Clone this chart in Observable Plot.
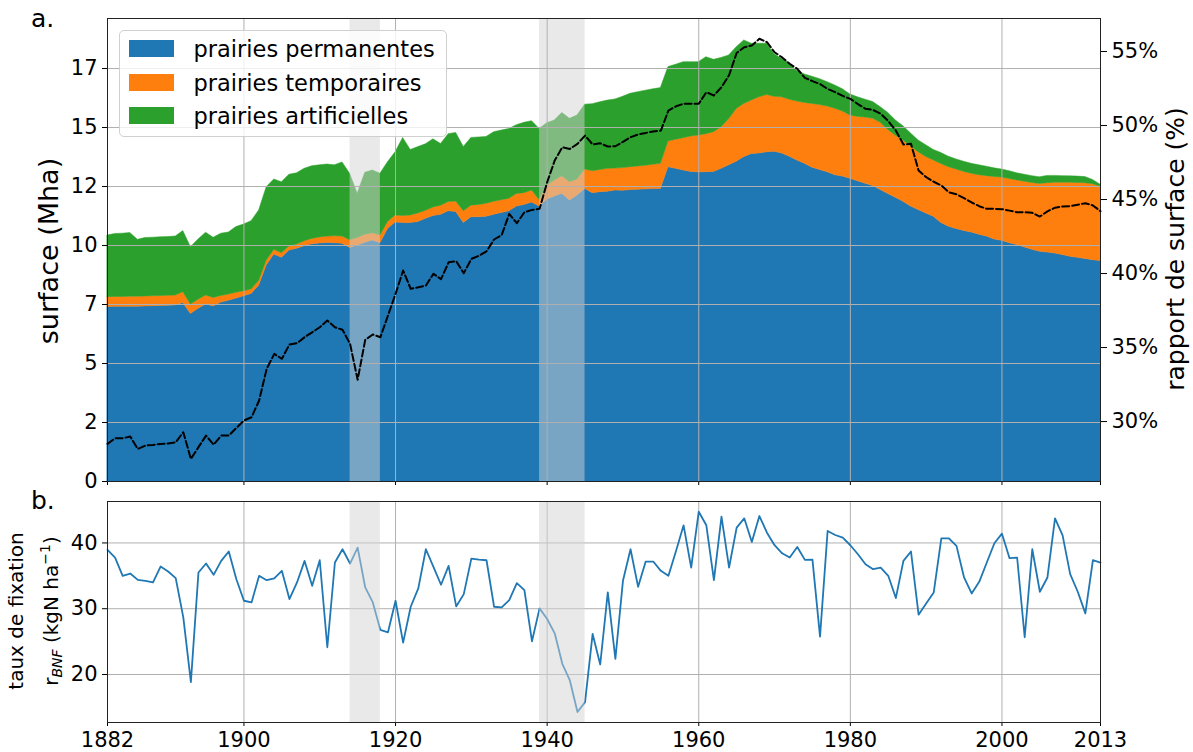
<!DOCTYPE html>
<html><head><meta charset="utf-8">
<script src="https://cdn.jsdelivr.net/npm/d3@7"></script>
<script src="https://cdn.jsdelivr.net/npm/@observablehq/plot@0.6"></script>
<style>
body{margin:0;background:#fff;font-family:"DejaVu Sans",sans-serif;color:#000;}
#wrap{position:relative;width:1193px;height:752px;overflow:hidden;background:#fff;}
#wrap svg{position:absolute;left:0;}
.lbl{position:absolute;white-space:nowrap;color:#000;font-family:"DejaVu Sans",sans-serif;}
.rot{transform:translate(-50%,-50%) rotate(-90deg);}
#legend{position:absolute;left:119px;top:30px;width:328px;height:107px;box-sizing:border-box;background:rgba(255,255,255,0.8);border:1px solid #d0d0d0;border-radius:5px;}
#legend .sw{position:absolute;left:8.5px;width:45.6px;height:16.4px;}
#legend .tx{position:absolute;left:73.5px;font-size:22.5px;line-height:1;transform:translateY(-50%);white-space:nowrap;}
</style></head><body><div id="wrap"></div>
<script>
// ---- data ----
const years = d3.range(1882, 2014);
const seriesNames = ["prairies permanentes", "prairies temporaires", "prairies artificielles"];
const seriesColors = ["#1f77b4", "#ff7f0e", "#2ca02c"];
const permanentes = [
 7.39,7.40,7.40,7.41,7.41,7.42,7.43,7.44,7.45,7.46,
 7.56,7.10,7.32,7.50,7.42,7.58,7.66,7.75,7.85,7.95,
 8.30,9.15,9.62,9.48,9.79,9.86,9.97,10.05,10.09,10.11,
 10.10,10.07,9.90,10.00,10.12,10.21,10.10,10.70,10.98,10.95,
 10.95,11.00,11.13,11.25,11.30,11.45,11.42,10.95,11.20,11.20,
 11.22,11.30,11.38,11.45,11.65,11.72,11.82,11.65,11.95,12.08,
 12.19,11.91,12.12,12.40,12.22,12.26,12.28,12.33,12.32,12.35,
 12.36,12.38,12.39,12.40,13.32,13.25,13.18,13.12,13.10,13.11,
 13.12,13.25,13.40,13.55,13.75,13.88,13.90,13.95,13.97,13.90,
 13.76,13.60,13.46,13.30,13.20,13.10,12.98,12.92,12.83,12.72,
 12.62,12.52,12.35,12.18,12.02,11.85,11.65,11.50,11.36,11.22,
 10.95,10.80,10.70,10.62,10.55,10.46,10.38,10.26,10.20,10.10,
 10.02,9.92,9.82,9.74,9.70,9.66,9.60,9.52,9.48,9.43,
 9.38,9.34];
const temporaires = [
 0.42,0.42,0.42,0.42,0.42,0.42,0.42,0.42,0.42,0.42,
 0.46,0.40,0.38,0.38,0.36,0.28,0.26,0.25,0.21,0.19,
 0.20,0.21,0.20,0.19,0.17,0.18,0.21,0.23,0.25,0.27,
 0.29,0.31,0.32,0.32,0.34,0.31,0.32,0.30,0.29,0.30,
 0.32,0.36,0.34,0.36,0.39,0.39,0.44,0.50,0.49,0.52,
 0.55,0.55,0.54,0.53,0.53,0.50,0.51,0.28,0.59,0.67,
 0.75,0.77,0.68,0.82,0.93,0.94,0.97,0.93,0.96,0.97,
 0.99,1.00,1.03,1.06,1.09,1.23,1.37,1.50,1.56,1.61,
 1.68,1.76,1.95,2.24,2.25,2.27,2.38,2.43,2.33,2.38,
 2.42,2.50,2.58,2.70,2.75,2.79,2.82,2.76,2.68,2.73,
 2.80,2.85,2.85,2.72,2.63,2.60,2.55,2.45,2.39,2.38,
 2.50,2.52,2.52,2.50,2.49,2.52,2.56,2.64,2.68,2.72,
 2.74,2.78,2.83,2.87,2.94,3.00,3.06,3.14,3.17,3.21,
 3.22,3.16];
const artificielles = [
 2.61,2.67,2.68,2.70,2.41,2.48,2.48,2.49,2.49,2.50,
 2.59,2.43,2.55,2.66,2.55,2.64,2.63,2.78,2.83,2.89,
 2.98,3.11,2.98,3.01,3.04,3.02,3.07,3.08,3.06,3.05,
 3.01,3.14,2.82,1.87,2.62,2.66,2.62,2.53,2.68,3.31,
 2.78,2.81,2.82,2.89,2.61,2.88,2.91,2.72,2.87,2.86,
 2.83,2.95,2.95,2.96,2.92,2.98,2.94,3.01,2.64,2.55,
 2.68,2.69,2.71,2.75,2.84,2.87,2.89,2.93,3.02,3.11,
 3.15,3.18,3.20,3.21,3.15,3.18,3.22,3.15,3.11,3.26,
 3.07,2.94,2.70,2.61,2.69,2.40,2.27,2.17,1.80,1.62,
 1.52,1.30,1.21,1.15,1.10,1.03,0.98,0.94,0.89,0.83,
 0.76,0.71,0.66,0.72,0.65,0.60,0.55,0.50,0.50,0.45,
 0.47,0.44,0.43,0.43,0.42,0.42,0.40,0.37,0.34,0.33,
 0.30,0.30,0.29,0.28,0.31,0.29,0.28,0.27,0.27,0.26,
 0.18,0.08];
const rapportSurface = [
 28.49,28.87,28.87,28.99,28.15,28.38,28.42,28.49,28.52,28.60,
 29.28,27.48,28.27,29.05,28.44,29.05,29.05,29.57,30.07,30.29,
 31.42,33.56,34.57,34.24,35.20,35.29,35.70,36.03,36.37,36.82,
 36.37,36.20,35.25,32.82,35.52,35.88,35.70,37.16,38.63,40.20,
 38.97,39.07,39.19,39.98,39.62,40.76,40.83,40.02,40.99,41.20,
 41.50,42.30,42.60,44.03,43.40,44.14,44.30,44.37,46.17,47.64,
 48.53,48.42,48.76,49.32,48.72,48.80,48.58,48.60,48.90,49.21,
 49.40,49.50,49.60,49.66,51.01,51.30,51.47,51.47,51.47,52.25,
 52.03,52.59,53.40,54.90,55.29,55.41,55.86,55.63,54.95,54.60,
 54.17,53.83,53.22,53.00,52.80,52.47,52.25,52.00,51.80,51.45,
 51.13,51.05,50.80,50.30,49.66,48.72,48.76,46.96,46.51,46.20,
 45.95,45.49,45.35,45.10,44.80,44.55,44.37,44.37,44.35,44.25,
 44.14,44.14,44.10,43.85,44.20,44.45,44.53,44.55,44.65,44.75,
 44.60,44.21];
const tauxFixation = [
 38.94,37.78,35.00,35.35,34.39,34.24,33.99,36.41,35.65,34.65,
 28.69,18.84,35.50,36.87,35.15,37.27,38.69,34.49,31.21,30.96,
 35.00,34.34,34.60,35.76,31.47,33.99,37.27,33.48,37.37,24.14,
 37.02,39.04,36.87,39.29,33.23,30.96,26.77,26.41,31.21,24.85,
 30.30,33.10,39.04,36.36,33.64,36.52,30.35,32.22,37.62,37.47,
 37.37,30.30,30.20,31.31,33.89,32.83,25.05,30.05,28.43,26.26,
 21.62,19.09,14.29,15.80,26.16,21.52,32.47,22.37,34.24,39.04,
 33.33,37.17,37.17,35.76,35.00,38.79,42.68,36.26,44.75,42.68,
 34.34,43.99,36.26,42.32,43.74,40.15,44.09,41.56,39.65,38.43,
 37.78,39.39,37.42,37.47,25.76,41.82,41.21,40.80,39.65,38.28,
 36.77,36.01,36.26,35.00,31.62,37.27,38.69,29.09,30.81,32.47,
 40.70,40.70,39.55,34.75,32.32,34.09,37.02,39.95,41.41,37.68,
 37.78,25.66,39.04,32.58,34.75,43.74,41.16,35.25,32.58,29.29,
 37.37,37.02];
const guerres = [{start: 1914, end: 1918}, {start: 1939, end: 1945}];
const xTicks = [1882, 1900, 1920, 1940, 1960, 1980, 2000, 2013];
const xGrid = [1900, 1920, 1940, 1960, 1980, 2000];
const yTicksA = [0, 2.5, 5, 7.5, 10, 12.5, 15, 17.5];
const yTickLabelsA = ["0", "2", "5", "7", "10", "12", "15", "17"];
const ratioTicks = [30, 35, 40, 45, 50, 55];
const yTicksB = [20, 30, 40];
const xDomain = [1882, 2013];
const yDomainA = [0, 19.62];
const yDomainR = [25.95, 57.23];
const yDomainB = [12.7, 46.3];

// ---- tables ----
const seriesValues = [permanentes, temporaires, artificielles];
const stackData = [];
seriesNames.forEach((name, s) => years.forEach((yr, i) => stackData.push({year: yr, value: seriesValues[s][i], type: name})));
const ratioData = years.map((yr, i) => ({year: yr, ratio: rapportSurface[i]}));
const bnfData = years.map((yr, i) => ({year: yr, rbnf: tauxFixation[i]}));

const font = {fontFamily: "DejaVu Sans", fontSize: "21px", color: "#000", background: "transparent", overflow: "visible"};
const common = {width: 1193, marginLeft: 107, marginRight: 93};
const gridStyle = {stroke: "#b0b0b0", strokeOpacity: 1, strokeWidth: 1};

const topPlot = Plot.plot({
  ...common, height: 500, marginTop: 18, marginBottom: 19,
  style: font,
  x: {domain: xDomain},
  y: {domain: yDomainA},
  color: {domain: seriesNames, range: seriesColors},
  marks: [
    Plot.areaY(stackData, {x: "year", y: "value", z: "type", fill: "type", stroke: "type", strokeWidth: 0.5}),
    Plot.rect(guerres, {x1: "start", x2: "end", y1: () => yDomainA[0], y2: () => yDomainA[1], fill: "#d3d3d3", fillOpacity: 0.5}),
    Plot.gridX(xGrid, gridStyle),
    Plot.gridY(yTicksA.slice(1), gridStyle),
    Plot.axisY({ticks: yTicksA, tickFormat: d => yTickLabelsA[yTicksA.indexOf(d)], tickSize: 5, tickPadding: 5, label: null}),
    Plot.axisX({ticks: xTicks, tickFormat: () => "", tickSize: 4, label: null}),
    Plot.frame({stroke: "#222"})
  ]
});

const ratioPlot = Plot.plot({
  ...common, height: 500, marginTop: 18, marginBottom: 19,
  style: font,
  x: {domain: xDomain, axis: null},
  y: {domain: yDomainR},
  marks: [
    Plot.lineY(ratioData, {x: "year", y: "ratio", stroke: "black", strokeWidth: 2, strokeDasharray: "7,3"}),
    Plot.axisY({anchor: "right", ticks: ratioTicks, tickFormat: d => d + "%", tickSize: 6, tickPadding: 5, label: null})
  ]
});

const botPlot = Plot.plot({
  ...common, height: 262, marginTop: 11, marginBottom: 30,
  style: font,
  x: {domain: xDomain},
  y: {domain: yDomainB},
  marks: [
    Plot.gridX(xGrid, gridStyle),
    Plot.gridY(yTicksB, gridStyle),
    Plot.lineY(bnfData, {x: "year", y: "rbnf", stroke: "#1f77b4", strokeWidth: 1.8}),
    Plot.rect(guerres, {x1: "start", x2: "end", y1: () => yDomainB[0], y2: () => yDomainB[1], fill: "#d3d3d3", fillOpacity: 0.5}),
    Plot.axisY({ticks: yTicksB, tickSize: 5, tickPadding: 5, label: null}),
    Plot.axisX({ticks: xTicks, tickFormat: d => String(d), tickSize: 4, tickPadding: 6, label: null}),
    Plot.frame({stroke: "#222"})
  ]
});

const wrap = document.getElementById("wrap");
topPlot.style.top = "0px";
ratioPlot.style.top = "0px";
botPlot.style.top = "490px";
wrap.appendChild(botPlot);
wrap.appendChild(topPlot);
wrap.appendChild(ratioPlot);

// legend
const legend = document.createElement("div");
legend.id = "legend";
const rowsTop = [9.3, 43.3, 76.3];
seriesNames.forEach((name, i) => {
  const sw = document.createElement("div");
  sw.className = "sw"; sw.style.top = rowsTop[i] + "px"; sw.style.background = seriesColors[i];
  const tx = document.createElement("div");
  tx.className = "tx"; tx.style.top = (rowsTop[i] + 8.6) + "px"; tx.textContent = name;
  legend.appendChild(sw); legend.appendChild(tx);
});
wrap.appendChild(legend);

function label(html, css, cls) {
  const d = document.createElement("div");
  d.className = "lbl " + (cls || "");
  d.innerHTML = html;
  Object.assign(d.style, css);
  wrap.appendChild(d);
  return d;
}
label("a.", {left: "31px", top: "4px", fontSize: "25px"});
label("b.", {left: "31px", top: "486px", fontSize: "25px"});
label("surface (Mha)", {left: "48px", top: "251px", fontSize: "27px"}, "rot");
label("rapport de surface (%)", {left: "1175px", top: "249px", fontSize: "25px"}, "rot");
label('<div>taux de fixation</div><div>r<sub style="font-size:0.7em;vertical-align:-0.25em"><i>BNF</i></sub> (kgN ha<sup style="font-size:0.7em;vertical-align:0.55em">−1</sup>)</div>',
  {left: "37px", top: "611px", fontSize: "20px", textAlign: "center", lineHeight: "29px"}, "rot");
</script>
</body></html>
